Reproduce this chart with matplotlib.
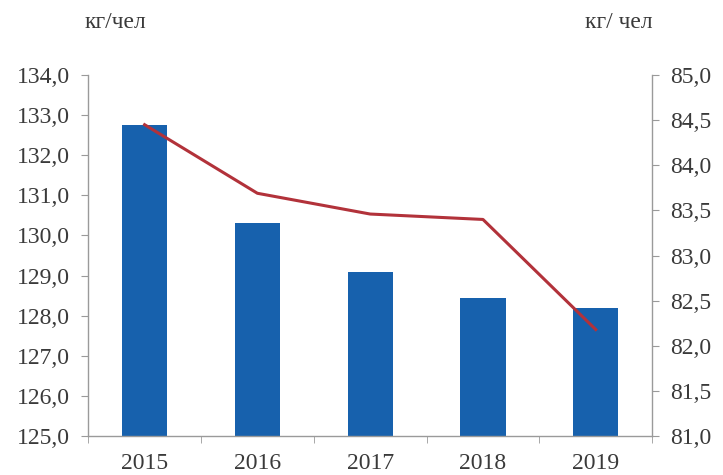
import numpy as np
import matplotlib
matplotlib.use("Agg")
import matplotlib.pyplot as plt
from matplotlib.ticker import FuncFormatter

plt.rcParams['font.family'] = ['Liberation Serif', 'DejaVu Serif']

years = ["2015", "2016", "2017", "2018", "2019"]
bar_values = [132.75, 130.3, 129.1, 128.45, 128.2]
line_values = [84.45, 83.69, 83.46, 83.4, 82.18]
unit_left = "кг/чел"
unit_right = "кг/ чел"

bar_color = "#1761ad"
line_color = "#b2323a"
text_color = "#3a3a3a"
axis_color = "#9a9a9a"

fig = plt.figure(figsize=(7.23, 4.75), dpi=100)
ax = fig.add_axes([0.122, 0.082, 0.780, 0.760])
x = np.arange(len(years))

ax.bar(x, bar_values, width=0.4, color=bar_color, zorder=2)
ax.set_ylim(125, 134)
ax.set_yticks(np.arange(125, 134.1, 1))
ax.set_xlim(-0.5, len(years) - 0.5)

ax2 = ax.twinx()
ax2.plot(x, line_values, color=line_color, lw=2.2, zorder=3)
ax2.set_ylim(81, 85)
ax2.set_yticks(np.arange(81, 85.01, 0.5))

comma = FuncFormatter(lambda v, p: f"{v:.1f}".replace(".", ","))
ax.yaxis.set_major_formatter(comma)
ax2.yaxis.set_major_formatter(comma)

# category labels without ticks, tick marks on category boundaries
ax.set_xticks(x)
ax.set_xticklabels(years)
ax.tick_params(axis='x', length=0, pad=12)
ax.set_xticks(np.arange(-0.5, len(years), 1), minor=True)
ax.tick_params(axis='x', which='minor', length=5, color=axis_color, direction='out')

for a in (ax, ax2):
    a.spines['top'].set_visible(False)
    for s in ('left', 'right', 'bottom'):
        a.spines[s].set_color(axis_color)
        a.spines[s].set_linewidth(1.0)
    a.tick_params(axis='y', length=5, color=axis_color, labelsize=17,
                  labelcolor=text_color, pad=8)
ax.tick_params(axis='x', labelsize=17, labelcolor=text_color)
ax.spines['right'].set_visible(False)
ax2.spines['left'].set_visible(False)
ax2.spines['bottom'].set_visible(False)

fig.text(0.117, 0.952, unit_left, fontsize=17, color=text_color, va='center')
fig.text(0.902, 0.952, unit_right, fontsize=17, color=text_color,
         va='center', ha='right')

fig.savefig("out.png", dpi=100)
